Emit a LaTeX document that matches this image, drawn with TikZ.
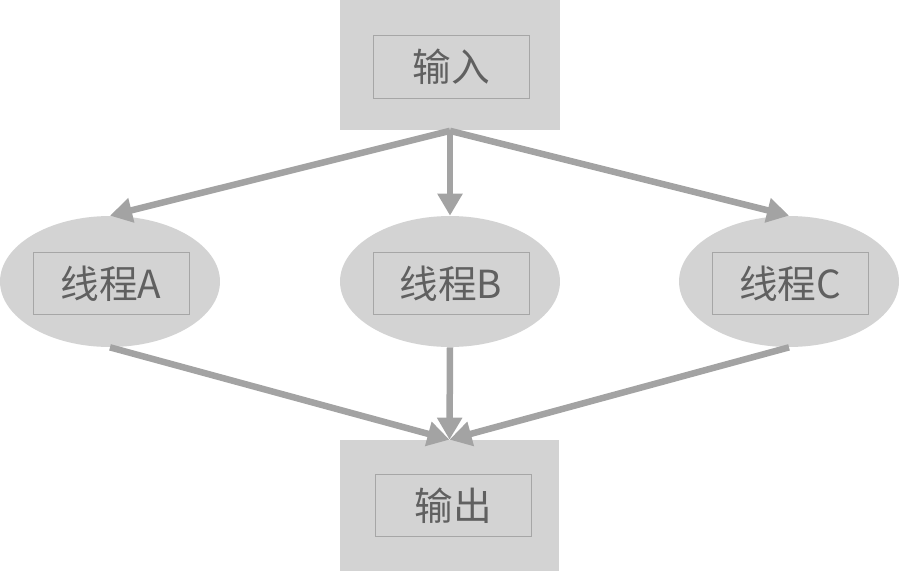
\documentclass[tikz,border=0pt]{standalone}
\usepackage{fontspec}
\setmainfont{Noto Sans CJK SC}
\usetikzlibrary{arrows.meta,shapes.geometric}
\definecolor{boxfill}{HTML}{D3D3D3}
\definecolor{edgegray}{HTML}{A3A3A3}
\definecolor{framegray}{HTML}{A6A6A6}
\definecolor{textgray}{HTML}{606060}
\tikzset{
  outerbox/.style={fill=boxfill, minimum width=4.4cm, minimum height=2.62cm, inner sep=0pt},
  threadnode/.style={ellipse, fill=boxfill, minimum width=4.4cm, minimum height=2.62cm, inner sep=0pt},
  label box/.style={draw=framegray, line width=0.5pt, minimum width=3.12cm, minimum height=1.25cm,
    inner sep=0pt, text=textgray, font=\fontsize{22}{26}\selectfont},
  flow/.style={draw=edgegray, line width=0.13cm, -{Triangle[length=0.44cm,width=0.48cm]}}
}
\begin{document}
\begin{tikzpicture}[x=0.02cm, y=-0.02cm]
            \useasboundingbox (0,0) rectangle (900,572);

            \node[outerbox] (in) at (450,65) {};
            \node[label box] (inlabel) at (451,67) {输入};

            \node[threadnode] (thA) at (110,281.5) {};
            \node[threadnode] (thB) at (450,281.5) {};
            \node[threadnode] (thC) at (789,281.5) {};
            \node[label box] (labA) at (111,283.5) {线程A};
            \node[label box] (labB) at (451,283.5) {线程B};
            \node[label box] (labC) at (790,283.5) {线程C};

            \node[outerbox] (out) at (449.5,505.5) {};
            \node[label box] (outlabel) at (453,505.5) {输出};

            \draw[flow] (in.south) -- (thA.north);
            \draw[flow] (in.south) -- (thB.north);
            \draw[flow] (in.south) -- (thC.north);

            \draw[flow] (thA.south) -- (out.north);
            \draw[flow] (thB.south) -- (out.north);
            \draw[flow] (thC.south) -- (out.north);
        \end{tikzpicture}
\end{document}
